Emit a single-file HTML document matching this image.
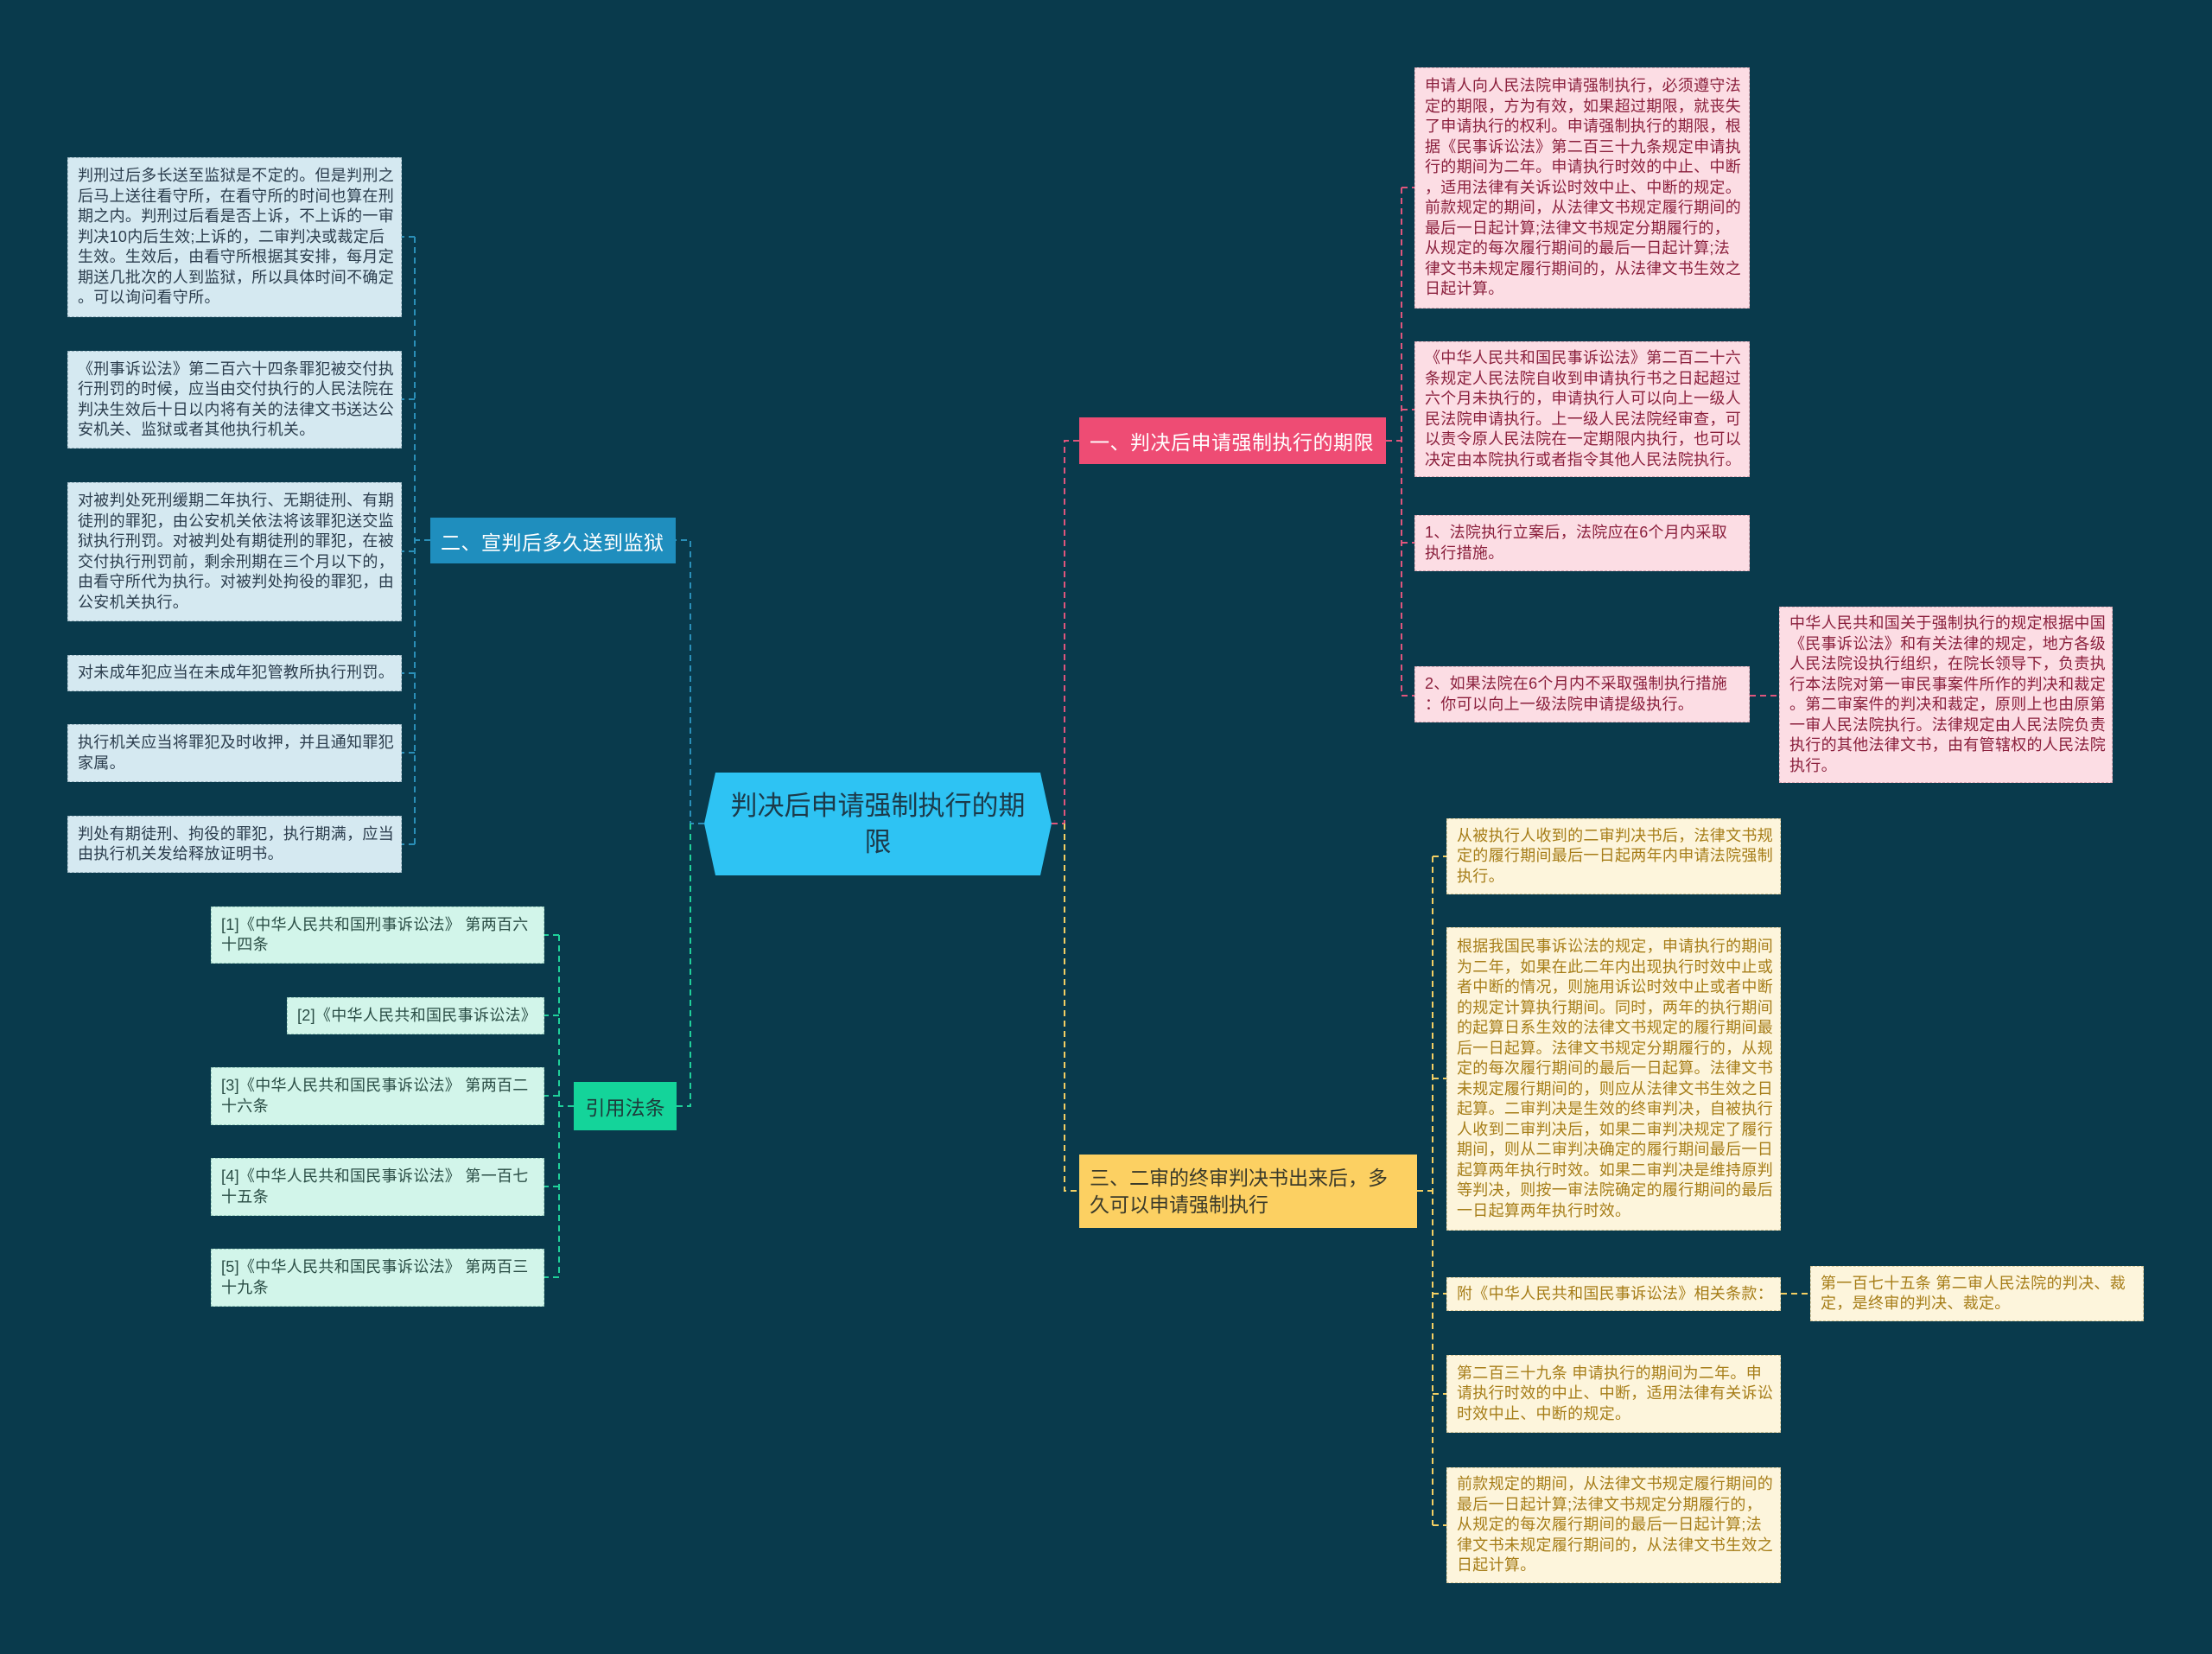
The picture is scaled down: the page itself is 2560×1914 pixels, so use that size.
<!DOCTYPE html>
<html><head><meta charset="utf-8"><style>
html,body{margin:0;padding:0;}
body{width:2560px;height:1914px;background:#093a4c;position:relative;overflow:hidden;font-family:"Liberation Sans","Noto Sans CJK SC",sans-serif;}
.b{position:absolute;box-sizing:border-box;display:flex;align-items:center;padding:0 11px;font-size:18px;line-height:23.5px;white-space:nowrap;letter-spacing:0.3px;}
.bl{background:#d5e9f1;color:#2b3d4d;border:1px dashed #9fb8c4;}
.pk{background:#fcdde4;color:#8a1f3c;border:1px dashed #d9a8b4;}
.yl{background:#fdf5dc;color:#a67d18;border:1px dashed #d8c99a;}
.gr{background:#d2f5ea;color:#2a4d45;border:1px dashed #9ccfbf;}
.br{position:absolute;box-sizing:border-box;display:flex;align-items:center;padding:0 12px;white-space:nowrap;}
</style></head><body>
<svg width="2560" height="1914" style="position:absolute;left:0;top:0" fill="none" stroke-width="2" stroke-dasharray="7 5">
<g stroke="#e0557c">
<path d="M1217 953 H1232 V510 H1249"/>
<path d="M1604 510 H1622"/>
<path d="M1622 217 V805"/>
<path d="M1622 217 H1637 M1622 474 H1637 M1622 628 H1637 M1622 805 H1637"/>
<path d="M2025 805 H2059"/>
</g>
<g stroke="#f3cf63">
<path d="M1232 953 V1378 H1249"/>
<path d="M1640 1378 H1658"/>
<path d="M1658 991 V1765"/>
<path d="M1658 991 H1674 M1658 1248 H1674 M1658 1497 H1674 M1658 1613 H1674 M1658 1765 H1674"/>
<path d="M2061 1497 H2095"/>
</g>
<g stroke="#2a8fb8">
<path d="M815 953 H799 V625 H782"/>
<path d="M498 625 H480"/>
<path d="M480 274 V977"/>
<path d="M480 274 H465 M480 462 H465 M480 638 H465 M480 779 H465 M480 871 H465 M480 977 H465"/>
</g>
<g stroke="#1fd09a">
<path d="M799 953 V1280 H783"/>
<path d="M664 1280 H647"/>
<path d="M647 1082 V1478"/>
<path d="M647 1082 H630 M647 1175 H630 M647 1268 H630 M647 1373 H630 M647 1478 H630"/>
</g>
<polygon points="828,894 1204,894 1217,953 1204,1013 828,1013 815,953" fill="#2ec3f3" stroke="none"/>
</svg>

<div style="position:absolute;left:815px;top:894px;width:402px;height:119px;display:flex;align-items:center;justify-content:center;text-align:center;font-size:31px;line-height:42px;color:#1c3a4a;">判决后申请强制执行的期<br>限</div>

<div class="br" style="left:1249px;top:483px;width:355px;height:54px;background:#ee4c74;color:#fff;font-size:23px;letter-spacing:0.5px;">一、判决后申请强制执行的期限</div>
<div class="br" style="left:498px;top:599px;width:284px;height:53px;background:#1f8ebe;color:#fff;font-size:23px;letter-spacing:0.5px;">二、宣判后多久送到监狱</div>
<div class="br" style="left:1249px;top:1336px;width:391px;height:85px;background:#fcd062;color:#3a3a2a;font-size:23px;line-height:31px;">三、二审的终审判决书出来后，多<br>久可以申请强制执行</div>
<div class="br" style="left:664px;top:1252px;width:119px;height:56px;background:#14d49a;color:#1e3a3a;font-size:23px;justify-content:center;">引用法条</div>

<div class="b bl" style="left:78px;top:182px;width:387px;height:185px;">判刑过后多长送至监狱是不定的。但是判刑之<br>后马上送往看守所，在看守所的时间也算在刑<br>期之内。判刑过后看是否上诉，不上诉的一审<br>判决10内后生效;上诉的，二审判决或裁定后<br>生效。生效后，由看守所根据其安排，每月定<br>期送几批次的人到监狱，所以具体时间不确定<br>。可以询问看守所。</div>
<div class="b bl" style="left:78px;top:406px;width:387px;height:113px;">《刑事诉讼法》第二百六十四条罪犯被交付执<br>行刑罚的时候，应当由交付执行的人民法院在<br>判决生效后十日以内将有关的法律文书送达公<br>安机关、监狱或者其他执行机关。</div>
<div class="b bl" style="left:78px;top:558px;width:387px;height:161px;">对被判处死刑缓期二年执行、无期徒刑、有期<br>徒刑的罪犯，由公安机关依法将该罪犯送交监<br>狱执行刑罚。对被判处有期徒刑的罪犯，在被<br>交付执行刑罚前，剩余刑期在三个月以下的，<br>由看守所代为执行。对被判处拘役的罪犯，由<br>公安机关执行。</div>
<div class="b bl" style="left:78px;top:758px;width:387px;height:42px;">对未成年犯应当在未成年犯管教所执行刑罚。</div>
<div class="b bl" style="left:78px;top:838px;width:387px;height:67px;">执行机关应当将罪犯及时收押，并且通知罪犯<br>家属。</div>
<div class="b bl" style="left:78px;top:944px;width:387px;height:66px;">判处有期徒刑、拘役的罪犯，执行期满，应当<br>由执行机关发给释放证明书。</div>

<div class="b gr" style="left:244px;top:1049px;width:386px;height:66px;">[1]《中华人民共和国刑事诉讼法》 第两百六<br>十四条</div>
<div class="b gr" style="left:332px;top:1154px;width:298px;height:43px;">[2]《中华人民共和国民事诉讼法》</div>
<div class="b gr" style="left:244px;top:1235px;width:386px;height:67px;">[3]《中华人民共和国民事诉讼法》 第两百二<br>十六条</div>
<div class="b gr" style="left:244px;top:1340px;width:386px;height:67px;">[4]《中华人民共和国民事诉讼法》 第一百七<br>十五条</div>
<div class="b gr" style="left:244px;top:1445px;width:386px;height:67px;">[5]《中华人民共和国民事诉讼法》 第两百三<br>十九条</div>

<div class="b pk" style="left:1637px;top:78px;width:388px;height:279px;">申请人向人民法院申请强制执行，必须遵守法<br>定的期限，方为有效，如果超过期限，就丧失<br>了申请执行的权利。申请强制执行的期限，根<br>据《民事诉讼法》第二百三十九条规定申请执<br>行的期间为二年。申请执行时效的中止、中断<br>，适用法律有关诉讼时效中止、中断的规定。<br>前款规定的期间，从法律文书规定履行期间的<br>最后一日起计算;法律文书规定分期履行的，<br>从规定的每次履行期间的最后一日起计算;法<br>律文书未规定履行期间的，从法律文书生效之<br>日起计算。</div>
<div class="b pk" style="left:1637px;top:395px;width:388px;height:157px;">《中华人民共和国民事诉讼法》第二百二十六<br>条规定人民法院自收到申请执行书之日起超过<br>六个月未执行的，申请执行人可以向上一级人<br>民法院申请执行。上一级人民法院经审查，可<br>以责令原人民法院在一定期限内执行，也可以<br>决定由本院执行或者指令其他人民法院执行。</div>
<div class="b pk" style="left:1637px;top:596px;width:388px;height:65px;">1、法院执行立案后，法院应在6个月内采取<br>执行措施。</div>
<div class="b pk" style="left:1637px;top:771px;width:388px;height:65px;">2、如果法院在6个月内不采取强制执行措施<br>：你可以向上一级法院申请提级执行。</div>
<div class="b pk" style="left:2059px;top:702px;width:386px;height:204px;">中华人民共和国关于强制执行的规定根据中国<br>《民事诉讼法》和有关法律的规定，地方各级<br>人民法院设执行组织，在院长领导下，负责执<br>行本法院对第一审民事案件所作的判决和裁定<br>。第二审案件的判决和裁定，原则上也由原第<br>一审人民法院执行。法律规定由人民法院负责<br>执行的其他法律文书，由有管辖权的人民法院<br>执行。</div>

<div class="b yl" style="left:1674px;top:947px;width:387px;height:88px;">从被执行人收到的二审判决书后，法律文书规<br>定的履行期间最后一日起两年内申请法院强制<br>执行。</div>
<div class="b yl" style="left:1674px;top:1073px;width:387px;height:351px;">根据我国民事诉讼法的规定，申请执行的期间<br>为二年，如果在此二年内出现执行时效中止或<br>者中断的情况，则施用诉讼时效中止或者中断<br>的规定计算执行期间。同时，两年的执行期间<br>的起算日系生效的法律文书规定的履行期间最<br>后一日起算。法律文书规定分期履行的，从规<br>定的每次履行期间的最后一日起算。法律文书<br>未规定履行期间的，则应从法律文书生效之日<br>起算。二审判决是生效的终审判决，自被执行<br>人收到二审判决后，如果二审判决规定了履行<br>期间，则从二审判决确定的履行期间最后一日<br>起算两年执行时效。如果二审判决是维持原判<br>等判决，则按一审法院确定的履行期间的最后<br>一日起算两年执行时效。</div>
<div class="b yl" style="left:1674px;top:1478px;width:387px;height:39px;">附《中华人民共和国民事诉讼法》相关条款：</div>
<div class="b yl" style="left:2095px;top:1465px;width:386px;height:64px;">第一百七十五条 第二审人民法院的判决、裁<br>定，是终审的判决、裁定。</div>
<div class="b yl" style="left:1674px;top:1568px;width:387px;height:90px;">第二百三十九条 申请执行的期间为二年。申<br>请执行时效的中止、中断，适用法律有关诉讼<br>时效中止、中断的规定。</div>
<div class="b yl" style="left:1674px;top:1698px;width:387px;height:134px;">前款规定的期间，从法律文书规定履行期间的<br>最后一日起计算;法律文书规定分期履行的，<br>从规定的每次履行期间的最后一日起计算;法<br>律文书未规定履行期间的，从法律文书生效之<br>日起计算。</div>
</body></html>
